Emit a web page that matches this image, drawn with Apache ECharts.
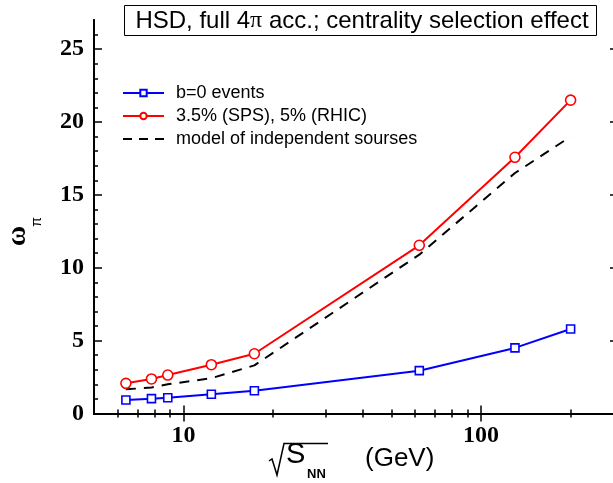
<!DOCTYPE html>
<html>
<head>
<meta charset="utf-8">
<script src="https://cdn.jsdelivr.net/npm/echarts@6/dist/echarts.min.js"></script>
<style>
  html, body { margin: 0; padding: 0; background: #fff; }
  #chart { width: 613px; height: 483px; }
</style>
</head>
<body>
<div id="chart"></div>
<script>
// Collision energy sqrt(s_NN) in GeV
const energies = [6.4, 7.8, 8.85, 12.4, 17.3, 62, 130, 200];
// Scaled variance of pions for the two centrality selections and the model
const omegaB0 = [0.93, 1.02, 1.08, 1.32, 1.56, 2.94, 4.50, 5.80];
const omegaCentral = [2.07, 2.37, 2.64, 3.35, 4.10, 11.54, 17.58, 21.50];
const omegaModel = [1.66, 1.78, 2.00, 2.42, 3.30, 10.90, 16.50, 19.00];

const seriesNames = ['b=0 events', '3.5% (SPS), 5% (RHIC)', 'model of independent sourses'];

// Tick positions
const xMajorTicks = [10, 100];
const xMinorTicks = [6, 7, 8, 9, 20, 30, 40, 50, 60, 70, 80, 90, 200, 300];
const yMajorTicks = [0, 5, 10, 15, 20, 25];
const yMinorTicks = [1, 2, 3, 4, 6, 7, 8, 9, 11, 12, 13, 14, 16, 17, 18, 19, 21, 22, 23, 24, 26];

const X_MIN = 5, X_MAX = 300, Y_MIN = 0, Y_MAX = 27;

const pair = (xs, ys) => xs.map((x, i) => [x, ys[i]]);

// plot frame extends slightly past the right edge of the canvas
const gridBox = { left: 94, top: 20, width: 529, height: 393.5, outerBoundsMode: 'none', containLabel: false };
const frame = { color: '#000', width: 2 };
const labelFont = { fontFamily: 'Liberation Serif', fontWeight: 'bold', fontSize: 24, color: '#000' };

function xAxisDef(gridIndex, position, ticks, len, withLabels) {
  return {
    type: 'log', logBase: 10, min: X_MIN, max: X_MAX, gridIndex, position,
    axisLine: { show: true, lineStyle: frame },
    axisTick: { show: true, inside: true, length: len, customValues: ticks, lineStyle: { color: '#000', width: 1.5 } },
    axisLabel: withLabels
      ? Object.assign({ show: true, customValues: ticks, margin: 10, formatter: v => String(Math.round(v)) }, labelFont)
      : { show: false },
    splitLine: { show: false }, minorTick: { show: false }
  };
}
function yAxisDef(gridIndex, position, ticks, len, withLabels) {
  return {
    type: 'value', min: Y_MIN, max: Y_MAX, gridIndex, position,
    offset: position === 'right' ? -5 : 0,
    axisLine: { show: true, lineStyle: frame },
    axisTick: { show: true, inside: true, length: len, customValues: ticks, lineStyle: { color: '#000', width: 1.5 } },
    axisLabel: withLabels
      ? Object.assign({ show: true, customValues: ticks, margin: 10 }, labelFont)
      : { show: false },
    splitLine: { show: false }
  };
}

// three short dashes for the model's legend key
const dashedKey = 'path://M0,0h9v2h-9z M16,0h9v2h-9z M32,0h9v2h-9z';

const chart = echarts.init(document.getElementById('chart'), null, { renderer: 'canvas' });

chart.setOption({
  animation: false,
  backgroundColor: '#fff',
  grid: [0, 1, 2, 3].map(() => Object.assign({}, gridBox)),
  xAxis: [
    xAxisDef(0, 'bottom', xMajorTicks, 8, true),
    xAxisDef(1, 'top', xMajorTicks, 8, false),
    xAxisDef(2, 'bottom', xMinorTicks, 4, false),
    xAxisDef(3, 'top', xMinorTicks, 4, false)
  ],
  yAxis: [
    yAxisDef(0, 'left', yMajorTicks, 8, true),
    yAxisDef(1, 'right', yMajorTicks, 8, false),
    yAxisDef(2, 'left', yMinorTicks, 4, false),
    yAxisDef(3, 'right', yMinorTicks, 4, false)
  ],
  legend: {
    left: 117, top: 79, orient: 'vertical',
    itemWidth: 41, itemHeight: 8, itemGap: 5,
    textStyle: { fontFamily: 'Liberation Sans', fontSize: 18, color: '#000', padding: [0, 0, 0, 7] },
    data: [
      { name: seriesNames[0] },
      { name: seriesNames[1] },
      { name: seriesNames[2], icon: dashedKey, itemStyle: { color: '#000' } }
    ]
  },
  series: [
    {
      name: seriesNames[0], type: 'line', xAxisIndex: 0, yAxisIndex: 0,
      data: pair(energies, omegaB0),
      symbol: 'rect', symbolSize: 8,
      lineStyle: { color: '#0000ff', width: 2 },
      itemStyle: { color: '#fff', borderColor: '#0000ff', borderWidth: 1.6 },
      z: 3
    },
    {
      name: seriesNames[1], type: 'line', xAxisIndex: 0, yAxisIndex: 0,
      data: pair(energies, omegaCentral),
      symbol: 'circle', symbolSize: 10,
      lineStyle: { color: '#ff0000', width: 2 },
      itemStyle: { color: '#fff', borderColor: '#ff0000', borderWidth: 1.6 },
      z: 3
    },
    {
      name: seriesNames[2], type: 'line', xAxisIndex: 0, yAxisIndex: 0,
      data: pair(energies, omegaModel),
      symbol: 'none',
      lineStyle: { color: '#000', width: 2, type: [10, 8] },
      itemStyle: { color: '#000' },
      z: 2
    }
  ],
  graphic: [
    // title box over the top frame
    {
      type: 'group', z: 100,
      children: [
        { type: 'rect', shape: { x: 124.5, y: 5.5, width: 472, height: 30 },
          style: { fill: '#fff', stroke: '#000', lineWidth: 1 } },
        { type: 'text', x: 362, y: 21,
          style: {
            text: '{a|HSD, full 4}{p|π}{a| acc.; centrality selection effect}',
            align: 'center', verticalAlign: 'middle',
            rich: {
              a: { fontFamily: 'Liberation Sans', fontSize: 24, fill: '#000' },
              p: { fontFamily: 'Liberation Serif', fontSize: 24, fill: '#000' }
            }
          } }
      ]
    },
    // y axis title: omega with pi subscript, rotated
    { type: 'text', x: 18, y: 236, rotation: Math.PI / 2, z: 100,
      style: { text: 'ω', fontFamily: 'Liberation Serif', fontWeight: 'bold', fontSize: 28, fill: '#000',
               align: 'center', verticalAlign: 'middle' } },
    { type: 'text', x: 37, y: 222, rotation: Math.PI / 2, z: 100,
      style: { text: 'π', fontFamily: 'Liberation Sans', fontSize: 14, fill: '#000',
               align: 'center', verticalAlign: 'middle' } },
    // x axis title: sqrt(S_NN) (GeV)
    { type: 'polyline', z: 100,
      shape: { points: [[269, 461], [272, 459], [277, 475], [284, 443.5], [328, 443.5]] },
      style: { stroke: '#000', lineWidth: 1.5, fill: null } },
    { type: 'text', x: 286, y: 469, z: 100,
      style: { text: 'S', fontFamily: 'Liberation Sans', fontSize: 29, fill: '#000', align: 'left', verticalAlign: 'bottom' } },
    { type: 'text', x: 307, y: 481, z: 100,
      style: { text: 'NN', fontFamily: 'Liberation Sans', fontWeight: 'bold', fontSize: 13, fill: '#000', align: 'left', verticalAlign: 'bottom' } },
    { type: 'text', x: 365, y: 472, z: 100,
      style: { text: '(GeV)', fontFamily: 'Liberation Sans', fontSize: 26, fill: '#000', align: 'left', verticalAlign: 'bottom' } }
  ]
});
</script>
</body>
</html>
